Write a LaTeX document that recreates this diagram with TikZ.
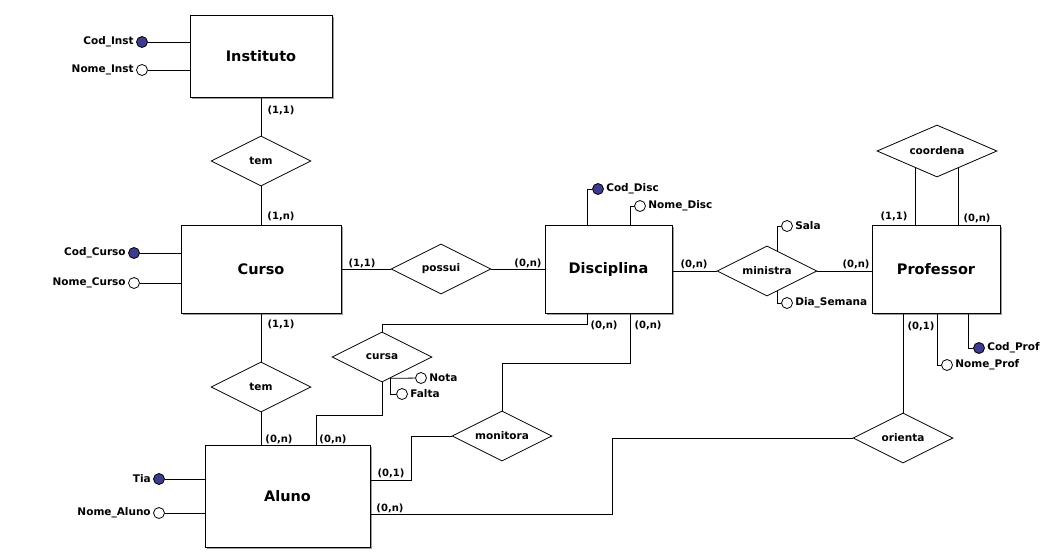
\documentclass[tikz,border=0pt]{standalone}
\usepackage{fontspec}
\setmainfont{DejaVu Sans}
\usetikzlibrary{calc,shapes.geometric,shadows}
\definecolor{chave}{RGB}{60,60,140}
\tikzset{
  entidade/.style={draw=black, fill=white, font=\fontsize{14.5}{16}\selectfont\bfseries,
    drop shadow={shadow xshift=1.6pt, shadow yshift=-1.6pt, fill=gray!75, opacity=1}},
  relacao/.style={diamond, aspect=2, draw=black, fill=white, inner sep=0pt,
    font=\fontsize{10.5}{12}\selectfont\bfseries},
  atrib/.style={circle, draw=black, minimum size=11pt, inner sep=0pt},
  rotulo/.style={font=\fontsize{10.5}{12}\selectfont\bfseries, inner sep=1pt},
  card/.style={font=\fontsize{10}{12}\selectfont\bfseries, inner sep=0pt},
}
\newcommand*{\Entidades}[1]{% #1 = list of x/y/w/h/name/text
  \foreach \x/\y/\w/\h/\nome/\texto in {#1} {
    \node [entidade, minimum width=\w pt, minimum height=\h pt] (\nome) at (\x,\y) {\texto};
    }%
}
\newcommand*{\Relacoes}[1]{% #1 = list of x/y/w/h/name/text
  \foreach \x/\y/\w/\h/\nome/\texto in {#1} {
    \node [relacao, minimum width=\w pt, minimum height=\h pt] (\nome) at (\x,\y) {\texto};
    }%
}
\newcommand*{\Atributos}[1]{% #1 = list of x/y/color/name/side/text
  \foreach \x/\y/\cor/\nome/\lado/\texto in {#1} {
    \node [atrib, fill=\cor, label={[rotulo, label distance=1pt]\lado:\texto}] (\nome) at (\x,\y) {};
    }%
}
\newcommand*{\Cards}[1]{% #1 = list of x/y/name/text
  \foreach \x/\y/\nome/\texto in {#1} {
    \node [card] (\nome) at (\x,\y) {\texto};
    }%
}

\begin{document}
\begin{tikzpicture}[x=1pt, y=-1pt, line width=0.8pt]
    \useasboundingbox (0,0) rectangle (1051,555);

    \Entidades{
        261/56/142/82/inst/Instituto,
        261/269/160/88/curso/Curso,
        608.5/269/127/88/disc/Disciplina,
        936/269/128/88/prof/Professor,
        287.5/496/165/102/aluno/Aluno
    }

    \Relacoes{
        261/161/100/50/tema/tem,
        261/387/100/50/temb/tem,
        441/269/100/50/possui/possui,
        767/271/100/50/ministra/ministra,
        937/151/120/52/coordena/coordena,
        382/357/100/50/cursa/cursa,
        502/436/100/50/monitora/monitora,
        903/438/100/50/orienta/orienta
    }

    \Atributos{
        142/42/chave/codinst/left/Cod\_Inst,
        142/70/white/nomeinst/left/Nome\_Inst,
        134/253/chave/codcurso/left/Cod\_Curso,
        134/283/white/nomecurso/left/Nome\_Curso,
        159/479/chave/tia/left/Tia,
        159/513/white/nomealuno/left/Nome\_Aluno,
        598/189/chave/coddisc/right/Cod\_Disc,
        640/206/white/nomedisc/right/Nome\_Disc,
        787/226/white/sala/right/Sala,
        787/303/white/diasemana/right/Dia\_Semana,
        979/348/chave/codprof/right/Cod\_Prof,
        947/365/white/nomeprof/right/Nome\_Prof,
        421/378/white/nota/right/Nota,
        402/394/white/falta/right/Falta
    }

    % attributes
    \draw (codinst) -- (codinst -| inst.west);
    \draw (nomeinst) -- (nomeinst -| inst.west);
    \draw (codcurso) -- (codcurso -| curso.west);
    \draw (nomecurso) -- (nomecurso -| curso.west);
    \draw (tia) -- (tia -| aluno.west);
    \draw (nomealuno) -- (nomealuno -| aluno.west);
    \draw (coddisc) -| ($(disc.north)+(-21.5,0)$);
    \draw (nomedisc) -| ($(disc.north)+(21.5,0)$);
    \draw (sala) -| ($(ministra.north)!0.2!(ministra.east)$);
    \draw (diasemana) -| ($(ministra.south)!0.2!(ministra.east)$);
    \draw (codprof) -| ($(prof.south)+(32,0)$);
    \draw (nomeprof) -| ($(prof.south)+(1,0)$);
    \coordinate (cursaat) at ($(cursa.south)!0.16!(cursa.east)$);
    \draw (cursaat) -- (nota);
    \draw (cursaat) |- (falta);

    % relationships
    \draw (inst.south) -- (tema.north);
    \draw (tema.south) -- (curso.north);
    \draw (curso.south) -- (temb.north);
    \draw (temb.south) -- (temb.south |- aluno.north);
    \draw (curso.east) -- (possui.west);
    \draw (possui.east) -- (disc.west);
    \draw (disc.east |- ministra.west) -- (ministra.west);
    \draw (ministra.east) -- (ministra.east -| prof.west);
    \draw ($(coordena.south)!0.35!(coordena.west)$) -- ++(0,57);
    \draw ($(coordena.south)!0.35!(coordena.east)$) -- ++(0,57);
    \draw ($(disc.south)+(-21.5,0)$) -- ++(0,11) -| (cursa.north);
    \draw (cursa.south) -- ++(0,33) -| ($(aluno.north)+(28.5,0)$);
    \draw ($(disc.south)+(21.5,0)$) -- ++(0,50) -| (monitora.north);
    \draw (monitora.west) -- ++(-40,0) |- ($(aluno.east)+(0,-16)$);
    \draw ($(aluno.east)+(0,18)$) -- ++(242,0) |- (orienta.west);
    \draw (orienta.north) -- (orienta.north |- prof.south);

    \Cards{
        281/110/ca/{(1,1)},
        281/216/cb/{(1,n)},
        281/324/cc/{(1,1)},
        279/439/cd/{(0,n)},
        333/439/ce/{(0,n)},
        362/263/cf/{(1,1)},
        528/263/cg/{(0,n)},
        604/325/ch/{(0,n)},
        648/325/ci/{(0,n)},
        694/264/cj/{(0,n)},
        856/264/ck/{(0,n)},
        894/216/cl/{(1,1)},
        977/218/cm/{(0,n)},
        921/326/cn/{(0,1)},
        391/473/co/{(0,1)},
        390/508/cp/{(0,n)}
    }
\end{tikzpicture}
\end{document}
